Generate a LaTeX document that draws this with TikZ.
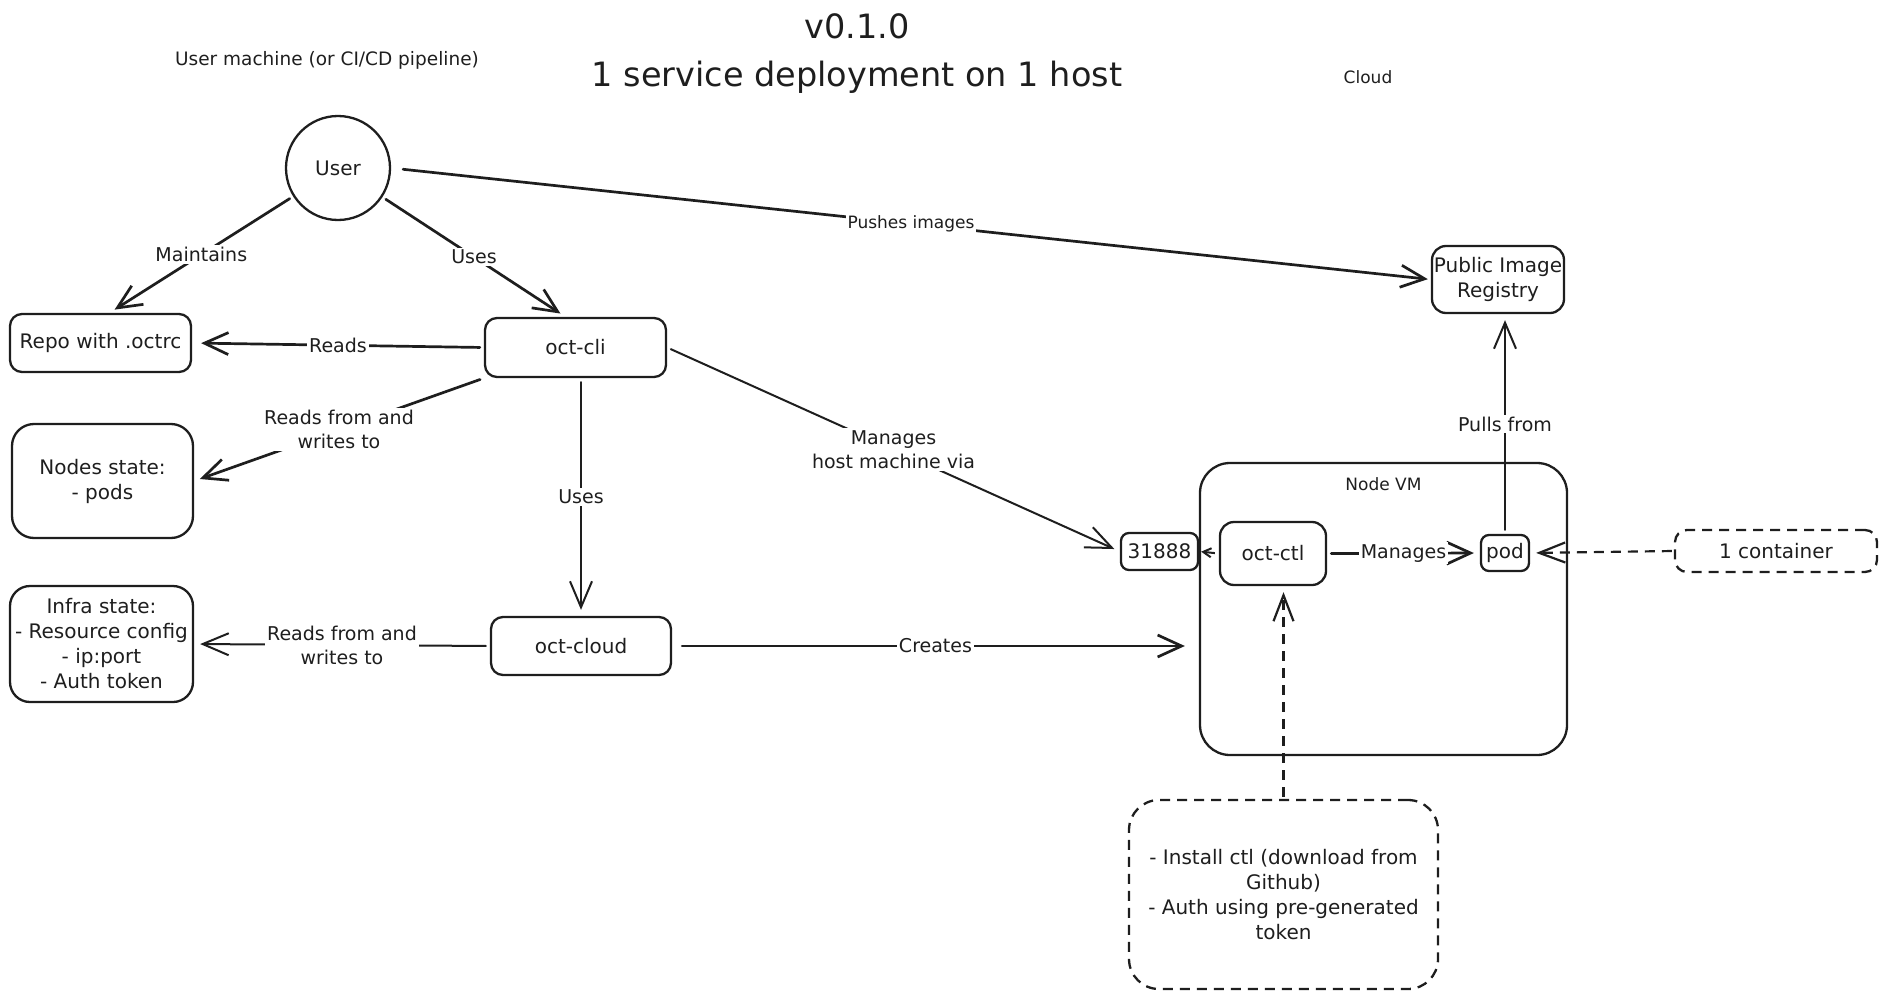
\documentclass[tikz,border=0pt]{standalone}
\usepackage{fontspec}
\setmainfont{DejaVu Sans}
\usetikzlibrary{arrows.meta,calc}
\definecolor{ink}{HTML}{1E1E1E}
\newcommand\mainfs{\fontsize{20}{25}\selectfont}
\newcommand\lblfs{\fontsize{19}{24}\selectfont}
\newcommand\smallfs{\fontsize{17}{21}\selectfont}
\newcommand\umfs{\fontsize{18.5}{22}\selectfont}
\newcommand\titlefs{\fontsize{33.5}{48}\selectfont}
\begin{document}
\begin{tikzpicture}[x=1pt,y=-1pt,
  every node/.style={text=ink},
  rbox/.style={draw=ink, line width=2.3pt, rounded corners=12pt, align=center, inner sep=0pt, font=\mainfs},
  dashbox/.style={dash pattern=on 10pt off 7pt},
  lbl/.style={fill=white, inner sep=2pt, align=center, font=\lblfs},
  thickarr/.style={draw=ink, line width=2.7pt, line cap=round, line join=round, shorten >=6pt, shorten <=4pt,
    -{Straight Barb[length=24pt,width=22pt]}},
  thinarr/.style={draw=ink, line width=2pt, line cap=round, line join=round, shorten >=6pt, shorten <=4pt,
    -{Straight Barb[length=26pt,width=22pt]}},
  dasharr/.style={draw=ink, line width=2.2pt, dash pattern=on 10pt off 7pt, shorten >=6pt, shorten <=2pt,
    -{Straight Barb[length=26pt,width=20pt]}},
  smallarr/.style={draw=ink, line width=2pt, shorten >=2pt, shorten <=4pt,
    -{Straight Barb[length=8pt,width=9pt]}}
]
\useasboundingbox (0,0) rectangle (1887,998);

% titles
\node[align=center, font=\titlefs] (title) at (857,54) {v0.1.0\\1 service deployment on 1 host};
\node[font=\umfs] (umach) at (327,60) {User machine (or CI/CD pipeline)};
\node[font=\smallfs] (cloudlbl) at (1368,77) {Cloud};

% nodes
\node[draw=ink, circle, line width=2.3pt, minimum size=104pt, inner sep=0pt, font=\mainfs] (user) at (338,168) {User};
\node[rbox, minimum width=181pt, minimum height=58pt] (repo) at (100.5,343) {Repo with .octrc};
\node[rbox, minimum width=181pt, minimum height=59pt] (cli) at (575.5,347.5) {oct-cli};
\node[rbox, rounded corners=22pt, minimum width=181pt, minimum height=114pt] (nodes) at (102.5,481) {Nodes state:\\- pods};
\node[rbox, rounded corners=20pt, minimum width=183pt, minimum height=116pt] (infra) at (101.5,644) {Infra state:\\- Resource config\\- ip:port\\- Auth token};
\node[rbox, minimum width=180pt, minimum height=58pt] (cloud) at (581,646) {oct-cloud};
\node[rbox, rounded corners=14pt, minimum width=132pt, minimum height=67pt] (reg) at (1498,279.5) {Public Image\\Registry};
\node[rbox, rounded corners=30pt, minimum width=367pt, minimum height=292pt] (vm) at (1383.5,609) {};
\node[font=\smallfs] (vmlabel) at (1383.5,484) {Node VM};
\node[rbox, rounded corners=8pt, minimum width=77pt, minimum height=37pt] (port) at (1159.5,551.5) {31888};
\node[rbox, rounded corners=14pt, minimum width=106pt, minimum height=63pt] (ctl) at (1273,553.5) {oct-ctl};
\node[rbox, rounded corners=8pt, minimum width=48pt, minimum height=36pt] (pod) at (1505,553) {pod};
\node[rbox, dashbox, rounded corners=12pt, minimum width=202pt, minimum height=42pt] (cont) at (1776,551) {1 container};
\node[rbox, dashbox, rounded corners=30pt, minimum width=309pt, minimum height=189pt] (inst) at (1283.5,894.5)
  {- Install ctl (download from\\Github)\\- Auth using pre-generated\\token};

% connectors
\draw[thickarr] (user) -- node[lbl]{Maintains} ([xshift=9pt]repo.north);
\draw[thickarr] (user) -- node[lbl]{Uses} ([xshift=-10pt]cli.north);
\draw[thickarr, shorten <=12pt, shorten >=3pt] (user.east) -- node[lbl, font=\smallfs]{Pushes images} (reg.west);
\draw[thickarr, shorten >=9pt] (cli.west) -- node[lbl]{Reads} (repo.east);
\draw[thickarr] (cli.south west) -- node[lbl]{Reads from and\\writes to} (nodes.east);
\draw[thinarr] (cloud.north |- cli.south) -- node[lbl]{Uses} (cloud.north);
\draw[thinarr] (cloud.west) -- node[lbl]{Reads from and\\writes to} (infra.east);
\draw[thickarr, shorten >=14pt, shorten <=10pt] (cloud.east) -- node[lbl]{Creates} (cloud.east -| vm.west);
\draw[thinarr] (cli.east) -- node[lbl]{Manages\\host machine via} (port.west);
\draw[smallarr] (ctl.west) -- (port.east);
\draw[thickarr] (ctl.east) -- node[lbl]{Manages} (pod.west);
\draw[thinarr] (pod.north) -- node[lbl]{Pulls from} (pod.north |- reg.south);
\draw[dasharr] (cont.west) -- (pod.east);
\draw[dasharr] (inst.north) -- (inst.north |- ctl.south);
\end{tikzpicture}
\end{document}
